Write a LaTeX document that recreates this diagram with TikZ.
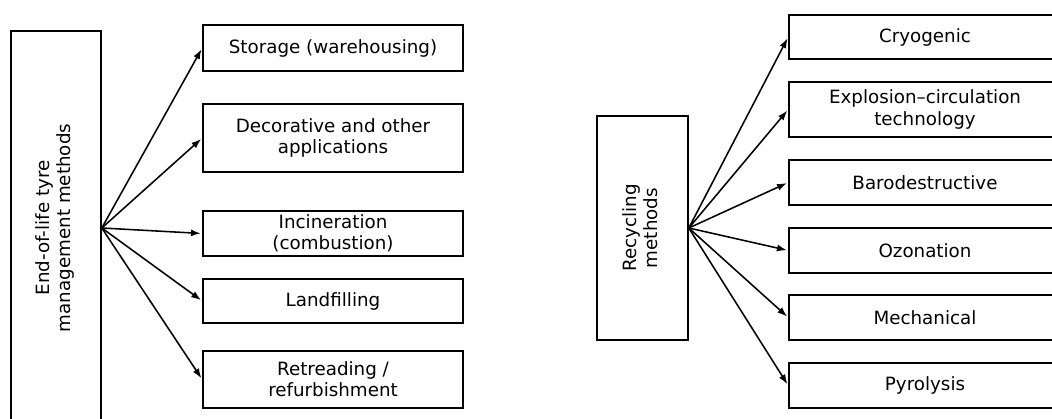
\documentclass[tikz,border=0pt]{standalone}
\usepackage{fontspec}
\setmainfont{DejaVu Sans}
\usepackage{xcolor}
\usetikzlibrary{arrows.meta}

\begin{document}
\begin{tikzpicture}[x=0.025cm,y=-0.025cm,
		box/.style={draw, line width=1.1pt, inner sep=2pt, align=center, font=\fontsize{13}{15}\selectfont},
		arr/.style={-{Latex[length=7pt,width=5pt]}, line width=1.1pt, shorten >=1pt}]
			\useasboundingbox (0,0) rectangle (1052,419);
			\clip (0,0) rectangle (1052,419);
			% left part
			\node[box, minimum width=2.25cm, minimum height=9.85cm](elt) at (56,228)
				{\rotatebox{90}{\begin{tabular}{@{}c@{}}End-of-life tyre\\management methods\end{tabular}}};
			\node[box, minimum width=6.5cm, minimum height=1.15cm](storage) at (333,48){Storage (warehousing)};
			\node[box, minimum width=6.5cm, minimum height=1.7cm](decor) at (333,138){Decorative and other\\applications};
			\node[box, minimum width=6.5cm, minimum height=1.125cm](incin) at (333,233.5){Incineration\\(combustion)};
			\node[box, minimum width=6.5cm, minimum height=1.1cm](landf) at (333,301){Landfilling};
			\node[box, minimum width=6.5cm, minimum height=1.425cm](retread) at (333,379.5){Retreading /\\refurbishment};
			\foreach \n in {storage,decor,incin,landf,retread}{
				\draw[arr](elt.east)--(\n.west);
			}
			% right part
			\node[box, minimum width=2.275cm, minimum height=5.6cm](recyc) at (642.5,228)
				{\rotatebox{90}{\begin{tabular}{@{}c@{}}Recycling\\methods\end{tabular}}};
			\node[box, minimum width=6.8cm, minimum height=1.1cm](cryo) at (925,37){Cryogenic};
			\node[box, minimum width=6.8cm, minimum height=1.375cm](expl) at (925,109.5){Explosion--circulation\\technology};
			\node[box, minimum width=6.8cm, minimum height=1.125cm](baro) at (925,182.5){Barodestructive};
			\node[box, minimum width=6.8cm, minimum height=1.125cm](ozon) at (925,250.5){Ozonation};
			\node[box, minimum width=6.8cm, minimum height=1.125cm](mech) at (925,317.5){Mechanical};
			\node[box, minimum width=6.8cm, minimum height=1.125cm](pyro) at (925,385.5){Pyrolysis};
			\foreach \n in {cryo,expl,baro,ozon,mech,pyro}{
				\draw[arr](recyc.east)--(\n.west);
			}
		\end{tikzpicture}
\end{document}
